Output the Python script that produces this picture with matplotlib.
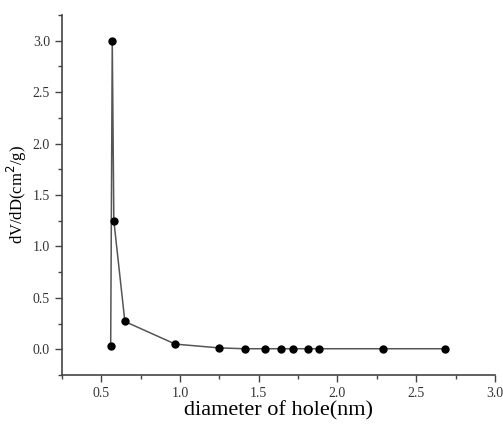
import matplotlib.pyplot as plt
from matplotlib.ticker import MultipleLocator

plt.rcParams['font.family'] = ['Liberation Serif', 'DejaVu Serif']

# 孔径分布数据
diameter = [0.56, 0.57, 0.58, 0.65, 0.97, 1.25, 1.41, 1.54, 1.64, 1.72, 1.81, 1.88, 2.29, 2.68]
dvdd = [0.03, 3.0, 1.25, 0.27, 0.05, 0.013, 0.005, 0.005, 0.005, 0.005, 0.005, 0.005, 0.005, 0.005]

fig = plt.figure(figsize=(5.03, 4.30), dpi=100)
ax = fig.add_axes([0.123, 0.128, 0.861, 0.837])

ax.plot(diameter, dvdd, color='#555555', linewidth=1.1, marker='o',
        markersize=5, markerfacecolor='black', markeredgecolor='black')

ax.set_xlim(0.25, 3.0)
ax.set_ylim(-0.25, 3.25)
ax.xaxis.set_minor_locator(MultipleLocator(0.25))
ax.yaxis.set_minor_locator(MultipleLocator(0.25))
ax.set_xticks([0.5, 1.0, 1.5, 2.0, 2.5, 3.0])
ax.set_yticks([0.0, 0.5, 1.0, 1.5, 2.0, 2.5, 3.0])

for s in ['top', 'right']:
    ax.spines[s].set_visible(False)
for s in ['left', 'bottom']:
    ax.spines[s].set_color('#444444')
    ax.spines[s].set_linewidth(1.2)

ax.tick_params(which='major', direction='out', length=5, width=1, colors='#444444',
               labelsize=10, labelcolor='#333333')
ax.tick_params(which='minor', direction='out', length=3, width=1, colors='#444444')

ax.set_xlabel('diameter of hole(nm)', fontsize=16, labelpad=1)
ax.set_ylabel('dV/dD(cm$^2$/g)', fontsize=12, labelpad=3)

plt.savefig('out.png', dpi=100)
